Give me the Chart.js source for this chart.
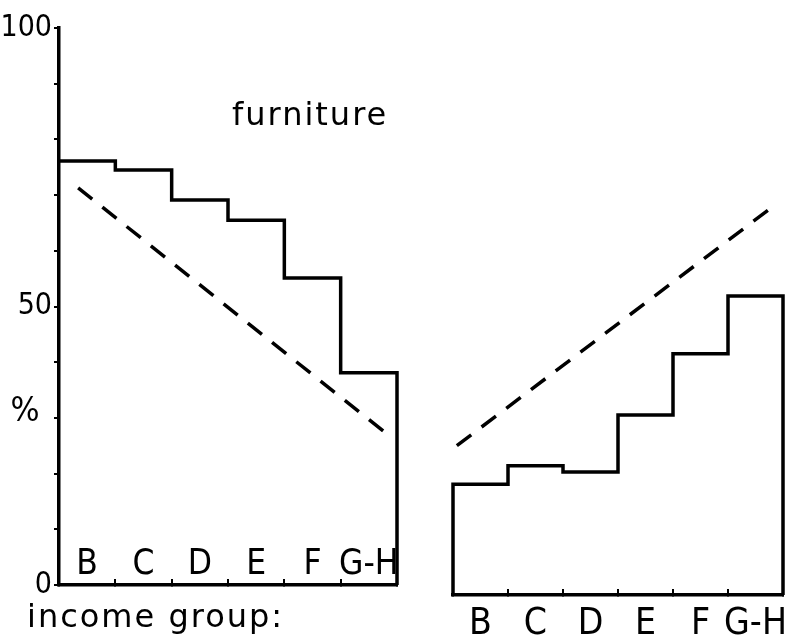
<!DOCTYPE html>
<html><head><meta charset="utf-8">
<script src="https://cdn.jsdelivr.net/npm/chart.js@4.4.1/dist/chart.umd.min.js"></script>
<style>
html,body{margin:0;padding:0;background:#fff;}
#wrap{position:relative;width:788px;height:642px;overflow:hidden;background:#fff;}
#c1{position:absolute;left:0;top:0;width:420px;height:642px;}
#c2{position:absolute;left:420px;top:0;width:368px;height:642px;}
</style></head><body>
<div id="wrap"><div id="c1"><canvas id="left"></canvas></div><div id="c2"><canvas id="right"></canvas></div></div>
<script>
// ---- data ----
const categories = ['B', 'C', 'D', 'E', 'F', 'G-H'];
const furnitureLeft = [76.1, 74.5, 69.1, 65.5, 55.1, 38.1];
const furnitureRight = [19.9, 23.2, 22.1, 32.3, 43.3, 53.7];
const trendLeftX = [0.34, 5.91];
const trendLeftY = [71.3, 26.4];
const trendRightX = [0.07, 5.73];
const trendRightY = [26.8, 69.1];
const yTickLabels = {0: '0', 50: '50', 100: '100'};
const chartTitle = 'furniture';
const xTitle = 'income group:';
const yTitle = '%';

const NARROW = '"Liberation Sans Narrow","DejaVu Sans Condensed","Liberation Sans",sans-serif';
const WIDE = '"DejaVu Sans","Liberation Sans",sans-serif';

function stepPoints(vals, closeLeft) {
  const pts = [];
  if (closeLeft) pts.push({x: 0, y: 0});
  vals.forEach((v, i) => pts.push({x: i, y: v}));
  pts.push({x: vals.length, y: vals[vals.length - 1]});
  pts.push({x: vals.length, y: 0});
  return pts;
}
function linePoints(xs, ys) { return xs.map((x, i) => ({x, y: ys[i]})); }

function datasets(vals, closeLeft, tx, ty) {
  return [
    {data: stepPoints(vals, closeLeft), stepped: 'before', borderColor: '#000', borderWidth: 3.5,
     pointRadius: 0, fill: false, clip: false, xAxisID: 'x', yAxisID: 'y'},
    {data: linePoints(tx, ty), borderColor: '#000', borderWidth: 3.5, borderDash: [18, 13],
     pointRadius: 0, fill: false, clip: false, xAxisID: 'x', yAxisID: 'y'}
  ];
}

function catAxis(fontSize, pad, height, mirror) {
  return {
    type: 'category', labels: categories, position: 'bottom', offset: true,
    grid: {offset: true, drawOnChartArea: false, color: '#000', lineWidth: 2, tickLength: -6},
    border: {display: true, color: '#000', width: 3.5},
    ticks: {color: '#000', font: {family: NARROW, size: fontSize}, padding: pad, mirror: mirror,
            autoSkip: false, maxRotation: 0, minRotation: 0},
    afterFit: s => { s.height = height; s.paddingLeft = 0; s.paddingRight = 0; }
  };
}

const annot = {
  id: 'annot',
  afterDraw(chart) {
    const {ctx, scales} = chart;
    ctx.save();
    ctx.fillStyle = '#000';
    ctx.textBaseline = 'alphabetic';
    ctx.textAlign = 'left';
    ctx.font = '32px ' + WIDE;
    ctx.letterSpacing = '2px';
    ctx.fillText(chartTitle, 232, 125);
    ctx.fillText(xTitle, 27, 627);
    ctx.letterSpacing = '0px';
    ctx.font = '34px ' + NARROW;
    ctx.textAlign = 'center';
    ctx.textBaseline = 'middle';
    ctx.fillText(yTitle, 25, scales.y.getPixelForValue(31));
    ctx.restore();
  }
};

new Chart(document.getElementById('left'), {
  type: 'line',
  data: {datasets: datasets(furnitureLeft, false, trendLeftX, trendLeftY)},
  options: {
    responsive: true, maintainAspectRatio: false, animation: false,
    layout: {padding: {top: 28, right: 23, left: 0, bottom: 0}},
    plugins: {legend: {display: false}, tooltip: {enabled: false}},
    scales: {
      x: {type: 'linear', min: 0, max: 6, display: false},
      xc: catAxis(35, -1, 57, true),
      y: {
        min: 0, max: 100, position: 'left',
        ticks: {stepSize: 10, color: '#000', font: {family: NARROW, size: 30}, padding: 2,
                callback: v => (yTickLabels[v] !== undefined ? yTickLabels[v] : '')},
        grid: {drawOnChartArea: false, color: '#000', lineWidth: 2, tickLength: 5},
        border: {display: true, color: '#000', width: 3.5},
        afterFit: s => { s.width = 59; }
      }
    }
  },
  plugins: [annot]
});

new Chart(document.getElementById('right'), {
  type: 'line',
  data: {datasets: datasets(furnitureRight, true, trendRightX, trendRightY)},
  options: {
    responsive: true, maintainAspectRatio: false, animation: false,
    layout: {padding: {top: 38, right: 5, left: 33, bottom: 0}},
    plugins: {legend: {display: false}, tooltip: {enabled: false}},
    scales: {
      x: {type: 'linear', min: 0, max: 6, display: false},
      xc: catAxis(37, 13, 47, false),
      y: {min: 0, max: 100, display: false}
    }
  }
});
</script>
</body></html>
